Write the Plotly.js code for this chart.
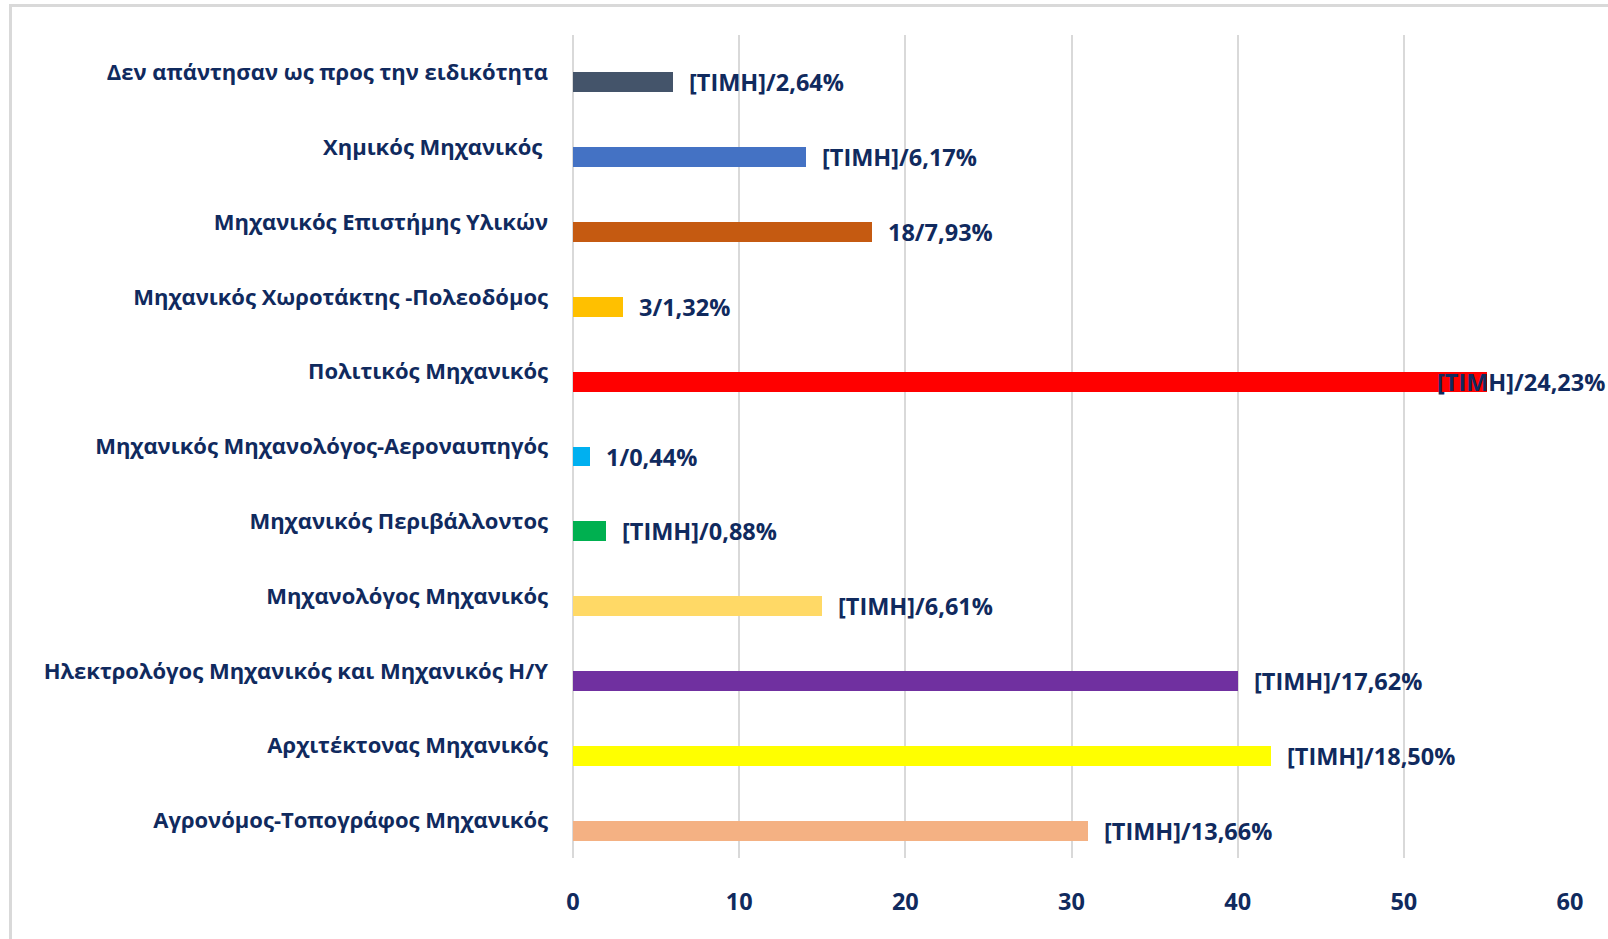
<!DOCTYPE html>
<html>
<head>
<meta charset="utf-8">
<script src="https://cdn.plot.ly/plotly-3.0.1.min.js"></script>
<style>
html,body{margin:0;padding:0;background:#fff;}
#wrap{position:relative;width:1608px;height:939px;overflow:hidden;}
#chart{width:1608px;height:939px;}
#frame{position:absolute;left:9px;top:4px;width:1700px;height:1000px;border-left:3px solid #d9d9d9;border-top:3px solid #d9d9d9;pointer-events:none;}
</style>
</head>
<body>
<div id="wrap"><div id="chart"></div><div id="frame"></div></div>
<script>
// Categories listed bottom to top
const categories = [
  "Αγρονόμος-Τοπογράφος Μηχανικός",
  "Αρχιτέκτονας Μηχανικός",
  "Ηλεκτρολόγος Μηχανικός και Μηχανικός Η/Υ",
  "Μηχανολόγος Μηχανικός",
  "Μηχανικός Περιβάλλοντος",
  "Μηχανικός Μηχανολόγος-Αεροναυπηγός",
  "Πολιτικός Μηχανικός",
  "Μηχανικός Χωροτάκτης -Πολεοδόμος",
  "Μηχανικός Επιστήμης Υλικών",
  "Χημικός Μηχανικός ",
  "Δεν απάντησαν ως προς την ειδικότητα"
];
const values = [31, 42, 40, 15, 2, 1, 55, 3, 18, 14, 6];
const labels = [
  "[ΤΙΜΗ]/13,66%",
  "[ΤΙΜΗ]/18,50%",
  "[ΤΙΜΗ]/17,62%",
  "[ΤΙΜΗ]/6,61%",
  "[ΤΙΜΗ]/0,88%",
  "1/0,44%",
  "[ΤΙΜΗ]/24,23%",
  "3/1,32%",
  "18/7,93%",
  "[ΤΙΜΗ]/6,17%",
  "[ΤΙΜΗ]/2,64%"
];
const colors = ["#f4b183","#ffff00","#7030a0","#ffd966","#00b050","#00b0f0","#ff0000","#ffc000","#c55a11","#4472c4","#44546a"];
const xTicks = [0, 10, 20, 30, 40, 50, 60];

const TXT = "#102a5e";
const FONT = "Open Sans, Noto Sans, sans-serif";
const FS = 22;
const FS_DATA = 23.5;
const FS_X = 23.5;

const trace = {
  type: "bar",
  orientation: "h",
  x: values,
  y: categories,
  marker: {color: colors},
  width: 0.267,
  offset: -0.267,
  hoverinfo: "none"
};

const xMax = 60;
const annotations = values.map((v, i) => {
  const overflow = v > 50;
  return overflow ? {
    x: 1, xref: "paper", y: categories[i], yref: "y",
    text: labels[i], showarrow: false, xanchor: "right", yanchor: "middle",
    xshift: 37, yshift: -10,
    font: {family: FONT, size: FS_DATA, color: TXT, weight: 700}
  } : {
    x: v, xref: "x", y: categories[i], yref: "y",
    text: labels[i], showarrow: false, xanchor: "left", yanchor: "middle",
    xshift: 14, yshift: -10,
    font: {family: FONT, size: FS_DATA, color: TXT, weight: 700}
  };
});

const layout = {
  width: 1608, height: 939,
  margin: {l: 573, r: 38, t: 35, b: 81, pad: 0},
  paper_bgcolor: "#ffffff",
  plot_bgcolor: "#ffffff",
  showlegend: false,
  bargap: 0,
  font: {family: FONT, size: FS, color: TXT, weight: 700},
  xaxis: {
    range: [0, xMax],
    tickvals: xTicks,
    ticktext: xTicks.map(String),
    showgrid: true, gridcolor: "#d9d9d9", gridwidth: 2,
    zeroline: true, zerolinecolor: "#d9d9d9", zerolinewidth: 2,
    showline: false, ticks: "",
    ticklabelstandoff: 27,
    tickfont: {family: FONT, size: FS_X, color: TXT, weight: 700},
    fixedrange: true
  },
  yaxis: {
    type: "category",
    categoryorder: "array",
    categoryarray: categories,
    range: [-0.5, categories.length - 0.5],
    showgrid: false, zeroline: false, showline: false, ticks: "",
    ticklabelstandoff: 24,
    tickfont: {family: FONT, size: FS, color: TXT, weight: 700},
    automargin: false,
    fixedrange: true
  },
  annotations: annotations
};

Plotly.newPlot("chart", [trace], layout, {displayModeBar: false, staticPlot: true});
</script>
</body>
</html>
